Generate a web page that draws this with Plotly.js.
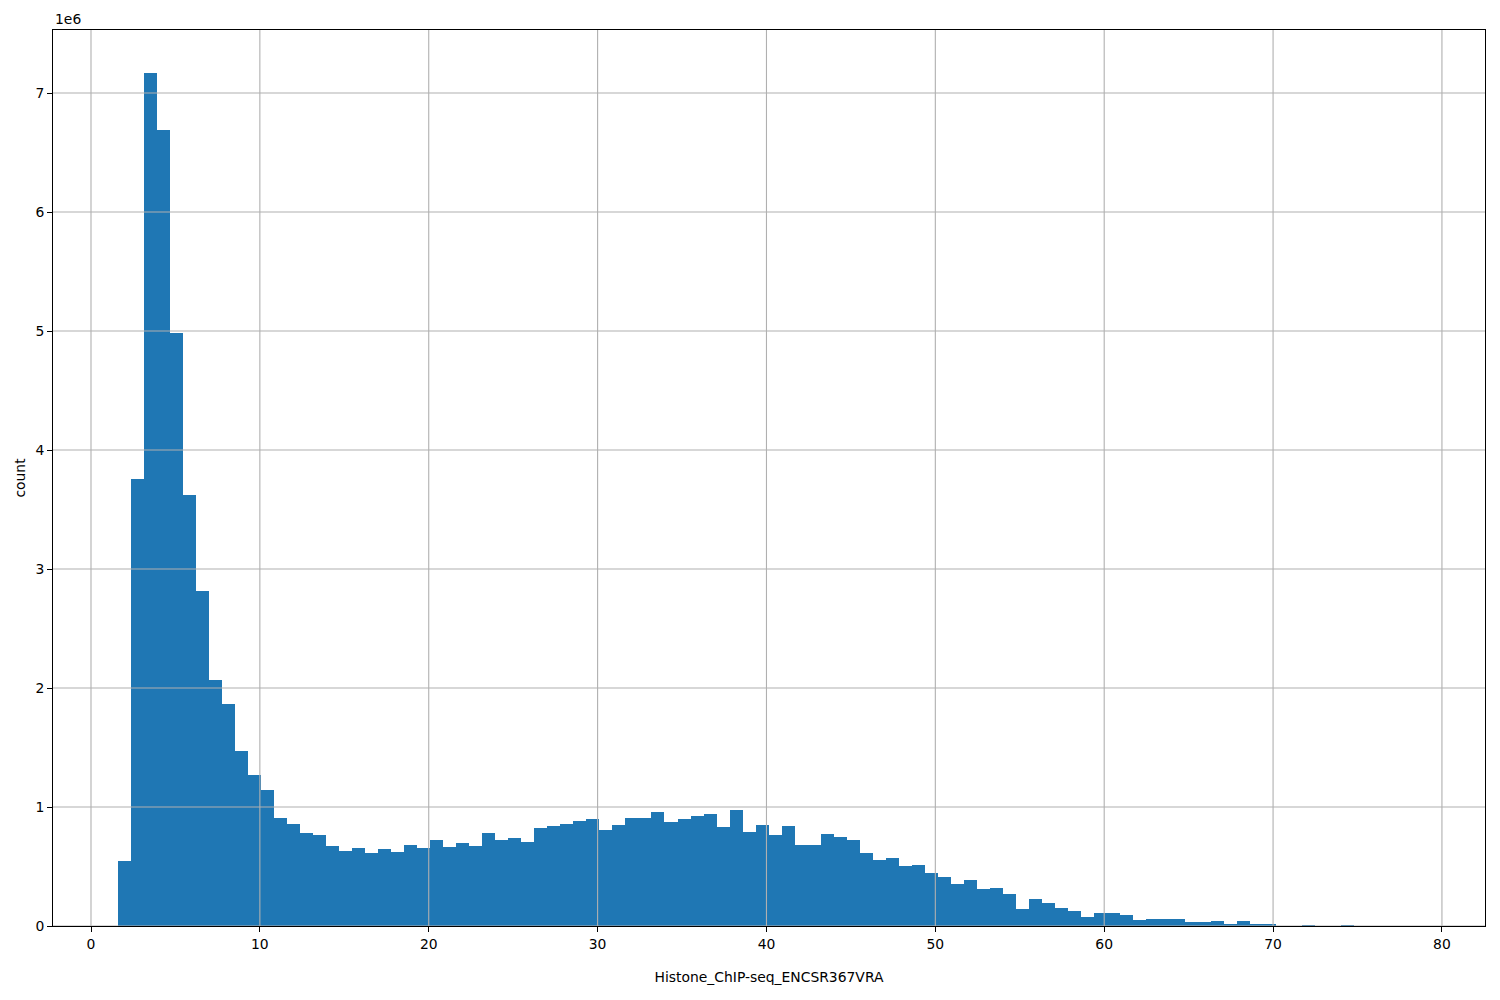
<!DOCTYPE html>
<html>
<head>
<meta charset="utf-8">
<script src="https://cdn.plot.ly/plotly-3.0.1.min.js"></script>
<style>body{margin:0;padding:0;background:#fff}#chart{width:1500px;height:1000px}</style>
</head>
<body>
<div id="chart"></div>
<script>
// Histogram bins: start edge and width, counts per bin (in units of 1e6)
const binStart = 1.6;
const binWidth = 0.7705;
const counts = [
  0.546, 3.756, 7.168, 6.689, 4.983, 3.622, 2.815, 2.067, 1.866, 1.470,
  1.269, 1.143, 0.908, 0.857, 0.782, 0.765, 0.672, 0.630, 0.655, 0.613,
  0.647, 0.622, 0.681, 0.655, 0.723, 0.664, 0.697, 0.672, 0.782, 0.723,
  0.739, 0.706, 0.824, 0.840, 0.857, 0.882, 0.899, 0.807, 0.849, 0.908,
  0.908, 0.958, 0.874, 0.899, 0.924, 0.941, 0.832, 0.975, 0.790, 0.849,
  0.765, 0.840, 0.681, 0.681, 0.773, 0.748, 0.723, 0.613, 0.555, 0.571,
  0.504, 0.513, 0.445, 0.412, 0.353, 0.387, 0.311, 0.319, 0.269, 0.143,
  0.227, 0.193, 0.151, 0.126, 0.076, 0.109, 0.109, 0.092, 0.050, 0.059,
  0.059, 0.059, 0.034, 0.034, 0.042, 0.017, 0.042, 0.015, 0.015, 0.000,
  0.000, 0.012, 0.000, 0.000, 0.012, 0.000, 0.000, 0.000, 0.000, 0.000
];
const xTicks = [0, 10, 20, 30, 40, 50, 60, 70, 80];
const yTicks = [0, 1, 2, 3, 4, 5, 6, 7];
const yScale = 1e6;
const xTitle = 'Histone_ChIP-seq_ENCSR367VRA';
const yTitle = 'count';

const xCenters = counts.map((c, i) => binStart + (i + 0.5) * binWidth);
const yVals = counts.map(c => c * yScale);

const font = {family: 'DejaVu Sans, sans-serif', size: 13.9, color: '#000'};
const gridColor = '#b0b0b0';

const shapes = [];
xTicks.forEach(v => shapes.push({type: 'line', xref: 'x', yref: 'paper', x0: v, x1: v, y0: 0, y1: 1,
  line: {color: gridColor, width: 1.1}, layer: 'above'}));
yTicks.forEach(v => shapes.push({type: 'line', xref: 'paper', yref: 'y', x0: 0, x1: 1, y0: v * yScale, y1: v * yScale,
  line: {color: gridColor, width: 1.1}, layer: 'above'}));

const trace = {
  type: 'bar',
  x: xCenters,
  y: yVals,
  width: binWidth,
  marker: {color: '#1f77b4', line: {width: 0}},
  hoverinfo: 'x+y'
};

const layout = {
  width: 1500, height: 1000,
  margin: {l: 53, r: 15, t: 30, b: 74, pad: 0},
  paper_bgcolor: '#fff', plot_bgcolor: '#fff',
  font: font,
  showlegend: false,
  bargap: 0,
  xaxis: {
    range: [-2.25, 82.55], tickmode: 'array', tickvals: xTicks, ticktext: xTicks.map(String),
    ticks: 'outside', ticklen: 5, tickwidth: 1, tickcolor: '#000',
    showgrid: false, zeroline: false, showline: true, mirror: true, linecolor: '#000', linewidth: 1,
    tickfont: font, automargin: false,
    title: {text: xTitle, font: font, standoff: 21}
  },
  yaxis: {
    range: [0, 7.53e6], tickmode: 'array', tickvals: yTicks.map(v => v * yScale), ticktext: yTicks.map(String),
    ticks: 'outside', ticklen: 5, tickwidth: 1, tickcolor: '#000',
    showgrid: false, zeroline: false, showline: true, mirror: true, linecolor: '#000', linewidth: 1,
    tickfont: font, automargin: false,
    title: {text: yTitle, font: font, standoff: 6}
  },
  shapes: shapes,
  annotations: [{
    text: '1e6', xref: 'paper', yref: 'paper', x: 0, y: 1, xanchor: 'left', yanchor: 'bottom',
    yshift: 1, showarrow: false, font: font
  }]
};

Plotly.newPlot('chart', [trace], layout, {displayModeBar: false, staticPlot: true});
</script>
</body>
</html>
